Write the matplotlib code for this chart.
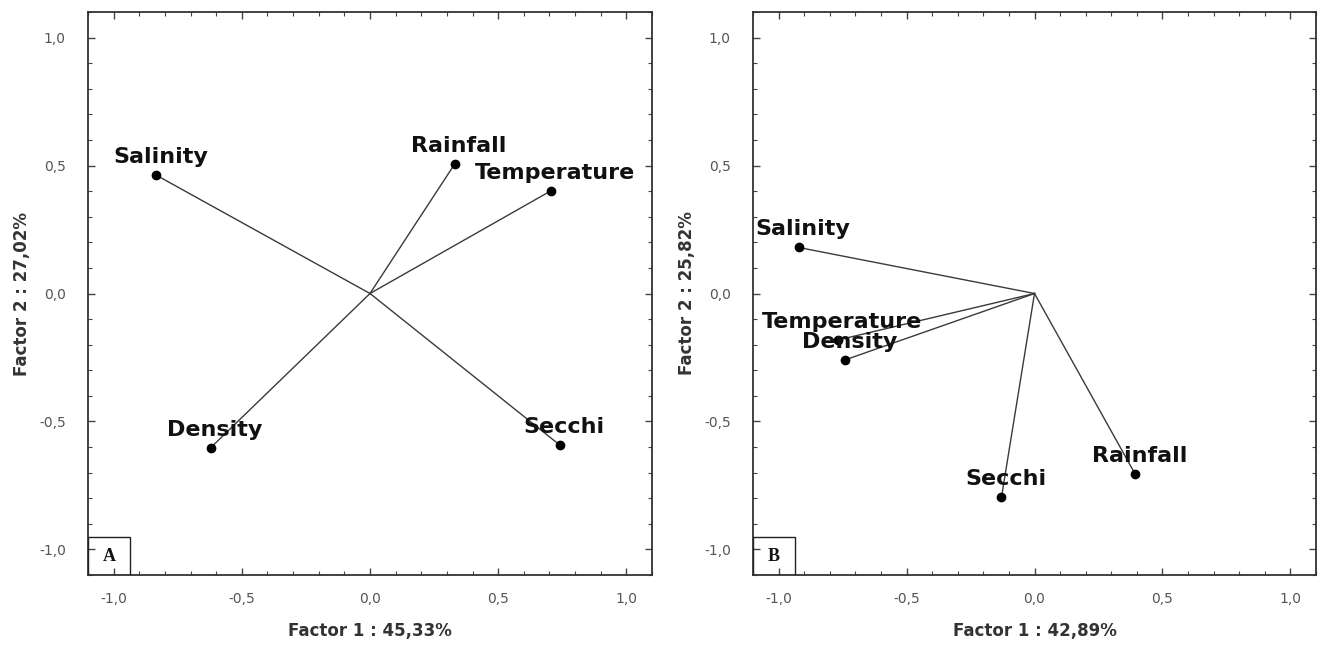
import matplotlib
matplotlib.use("Agg")
import matplotlib.pyplot as plt
from matplotlib.ticker import MultipleLocator, FuncFormatter
from matplotlib.patches import Rectangle

# ---- data ----
variables_a = ["Salinity", "Rainfall", "Temperature", "Density", "Secchi"]
factor1_a = [-0.833, 0.331, 0.707, -0.622, 0.740]
factor2_a = [0.462, 0.507, 0.402, -0.603, -0.592]

variables_b = ["Salinity", "Temperature", "Density", "Secchi", "Rainfall"]
factor1_b = [-0.922, -0.769, -0.739, -0.129, 0.393]
factor2_b = [0.180, -0.182, -0.259, -0.796, -0.705]

xlabels = ["Factor 1 : 45,33%", "Factor 1 : 42,89%"]
ylabels = ["Factor 2 : 27,02%", "Factor 2 : 25,82%"]
panel_letters = ["A", "B"]

fig = plt.figure(figsize=(13.2, 6.48), dpi=100)
axA = fig.add_axes([88/1320, 73/648, 564/1320, 563/648])
axB = fig.add_axes([753/1320, 73/648, 563/1320, 563/648])

fmt = FuncFormatter(lambda v, p: f"{v:.1f}".replace(".", ",").replace("-0,0", "0,0"))

for ax, names, xs, ys, xl, yl, letter in [
    (axA, variables_a, factor1_a, factor2_a, xlabels[0], ylabels[0], panel_letters[0]),
    (axB, variables_b, factor1_b, factor2_b, xlabels[1], ylabels[1], panel_letters[1]),
]:
    ax.set_xlim(-1.1, 1.1)
    ax.set_ylim(-1.1, 1.1)
    for n, x, y in zip(names, xs, ys):
        ax.plot([0, x], [0, y], color="#3a3a3a", lw=1.0, zorder=2)
        ax.plot([x], [y], "o", color="black", ms=6, zorder=3)
        ax.annotate(n, (x, y), xytext=(3, 13), textcoords="offset points",
                    ha="center", va="center", fontsize=16, fontweight="bold",
                    color="#111111", family="DejaVu Sans", zorder=4)
    ax.xaxis.set_major_locator(MultipleLocator(0.5))
    ax.yaxis.set_major_locator(MultipleLocator(0.5))
    ax.xaxis.set_minor_locator(MultipleLocator(0.1))
    ax.yaxis.set_minor_locator(MultipleLocator(0.1))
    ax.xaxis.set_major_formatter(fmt)
    ax.yaxis.set_major_formatter(fmt)
    ax.tick_params(which="both", direction="in", top=True, right=True, color="#444444")
    ax.tick_params(which="major", length=5, width=1)
    ax.tick_params(which="minor", length=3, width=0.8)
    ax.tick_params(axis="x", which="major", pad=12, labelsize=10, labelcolor="#555555")
    ax.tick_params(axis="y", which="major", pad=16, labelsize=10, labelcolor="#555555")
    for s in ax.spines.values():
        s.set_color("#333333")
        s.set_linewidth(1.3)
    ax.set_xlabel(xl, fontsize=12, fontweight="bold", color="#333333", labelpad=12)
    ax.set_ylabel(yl, fontsize=12, fontweight="bold", color="#333333", labelpad=6)
    ax.add_patch(Rectangle((0, 0), 0.075, 0.068, transform=ax.transAxes,
                           fill=False, edgecolor="#222222", lw=1.0, zorder=5))
    ax.text(0.0375, 0.032, letter, transform=ax.transAxes, ha="center", va="center",
            fontsize=13, fontweight="bold", family="Liberation Serif", color="#111111")

fig.savefig("out.png", dpi=100)
